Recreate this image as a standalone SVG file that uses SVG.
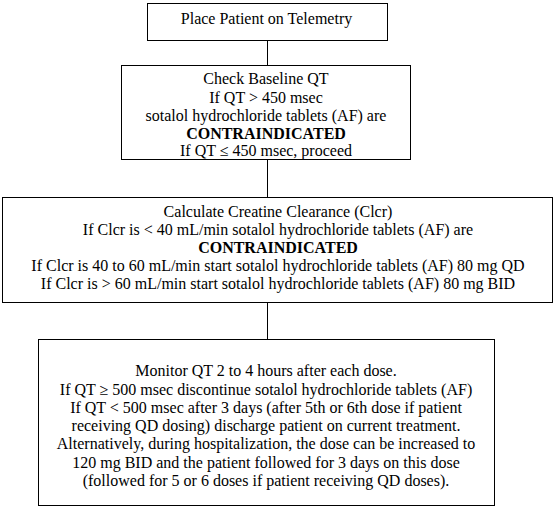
<svg xmlns="http://www.w3.org/2000/svg" width="558" height="509" viewBox="0 0 558 509">
<style>
.box{fill:#fff;stroke:#000;stroke-width:1}
.t{font-family:"Liberation Serif","Times New Roman",serif;font-size:16px;fill:#000;text-anchor:middle}
.b{font-weight:bold}
.c{stroke:#000;stroke-width:1;fill:none}
</style>
<rect width="558" height="509" fill="#fff"/>
<g id="connectors">
<line class="c" x1="267.5" y1="40.5" x2="267.5" y2="65.5"/>
<line class="c" x1="267.5" y1="159.5" x2="267.5" y2="197.5"/>
<line class="c" x1="267.5" y1="302.5" x2="267.5" y2="339.5"/>
</g>
<g id="node1">
<rect class="box" x="147.5" y="3.5" width="240" height="37"/>
<text class="t" x="266.5" y="24">Place Patient on Telemetry</text>
</g>
<g id="node2">
<rect class="box" x="121.5" y="65.5" width="289" height="94"/>
<text class="t" x="266" y="84">Check Baseline QT</text>
<text class="t" x="266" y="103">If QT &gt; 450 msec</text>
<text class="t" x="266" y="121">sotalol hydrochloride tablets (AF) are</text>
<text class="t b" x="266" y="139">CONTRAINDICATED</text>
<text class="t" x="266" y="156">If QT ≤ 450 msec, proceed</text>
</g>
<g id="node3">
<rect class="box" x="2.5" y="197.5" width="550" height="105"/>
<text class="t" x="278" y="217">Calculate Creatine Clearance (Clcr)</text>
<text class="t" x="278" y="234.5">If Clcr is &lt; 40 mL/min sotalol hydrochloride tablets (AF) are</text>
<text class="t b" x="278" y="253">CONTRAINDICATED</text>
<text class="t" x="278" y="271">If Clcr is 40 to 60 mL/min start sotalol hydrochloride tablets (AF) 80 mg QD</text>
<text class="t" x="278" y="289">If Clcr is &gt; 60 mL/min start sotalol hydrochloride tablets (AF) 80 mg BID</text>
</g>
<g id="node4">
<rect class="box" x="38.5" y="339.5" width="456" height="166"/>
<text class="t" x="266" y="376">Monitor QT 2 to 4 hours after each dose.</text>
<text class="t" x="266" y="394.5">If QT ≥ 500 msec discontinue sotalol hydrochloride tablets (AF)</text>
<text class="t" x="266" y="412.5">If QT &lt; 500 msec after 3 days (after 5th or 6th dose if patient</text>
<text class="t" x="266" y="431">receiving QD dosing) discharge patient on current treatment.</text>
<text class="t" x="266" y="449">Alternatively, during hospitalization, the dose can be increased to</text>
<text class="t" x="266" y="467.5">120 mg BID and the patient followed for 3 days on this dose</text>
<text class="t" x="266" y="486">(followed for 5 or 6 doses if patient receiving QD doses).</text>
</g>
</svg>
